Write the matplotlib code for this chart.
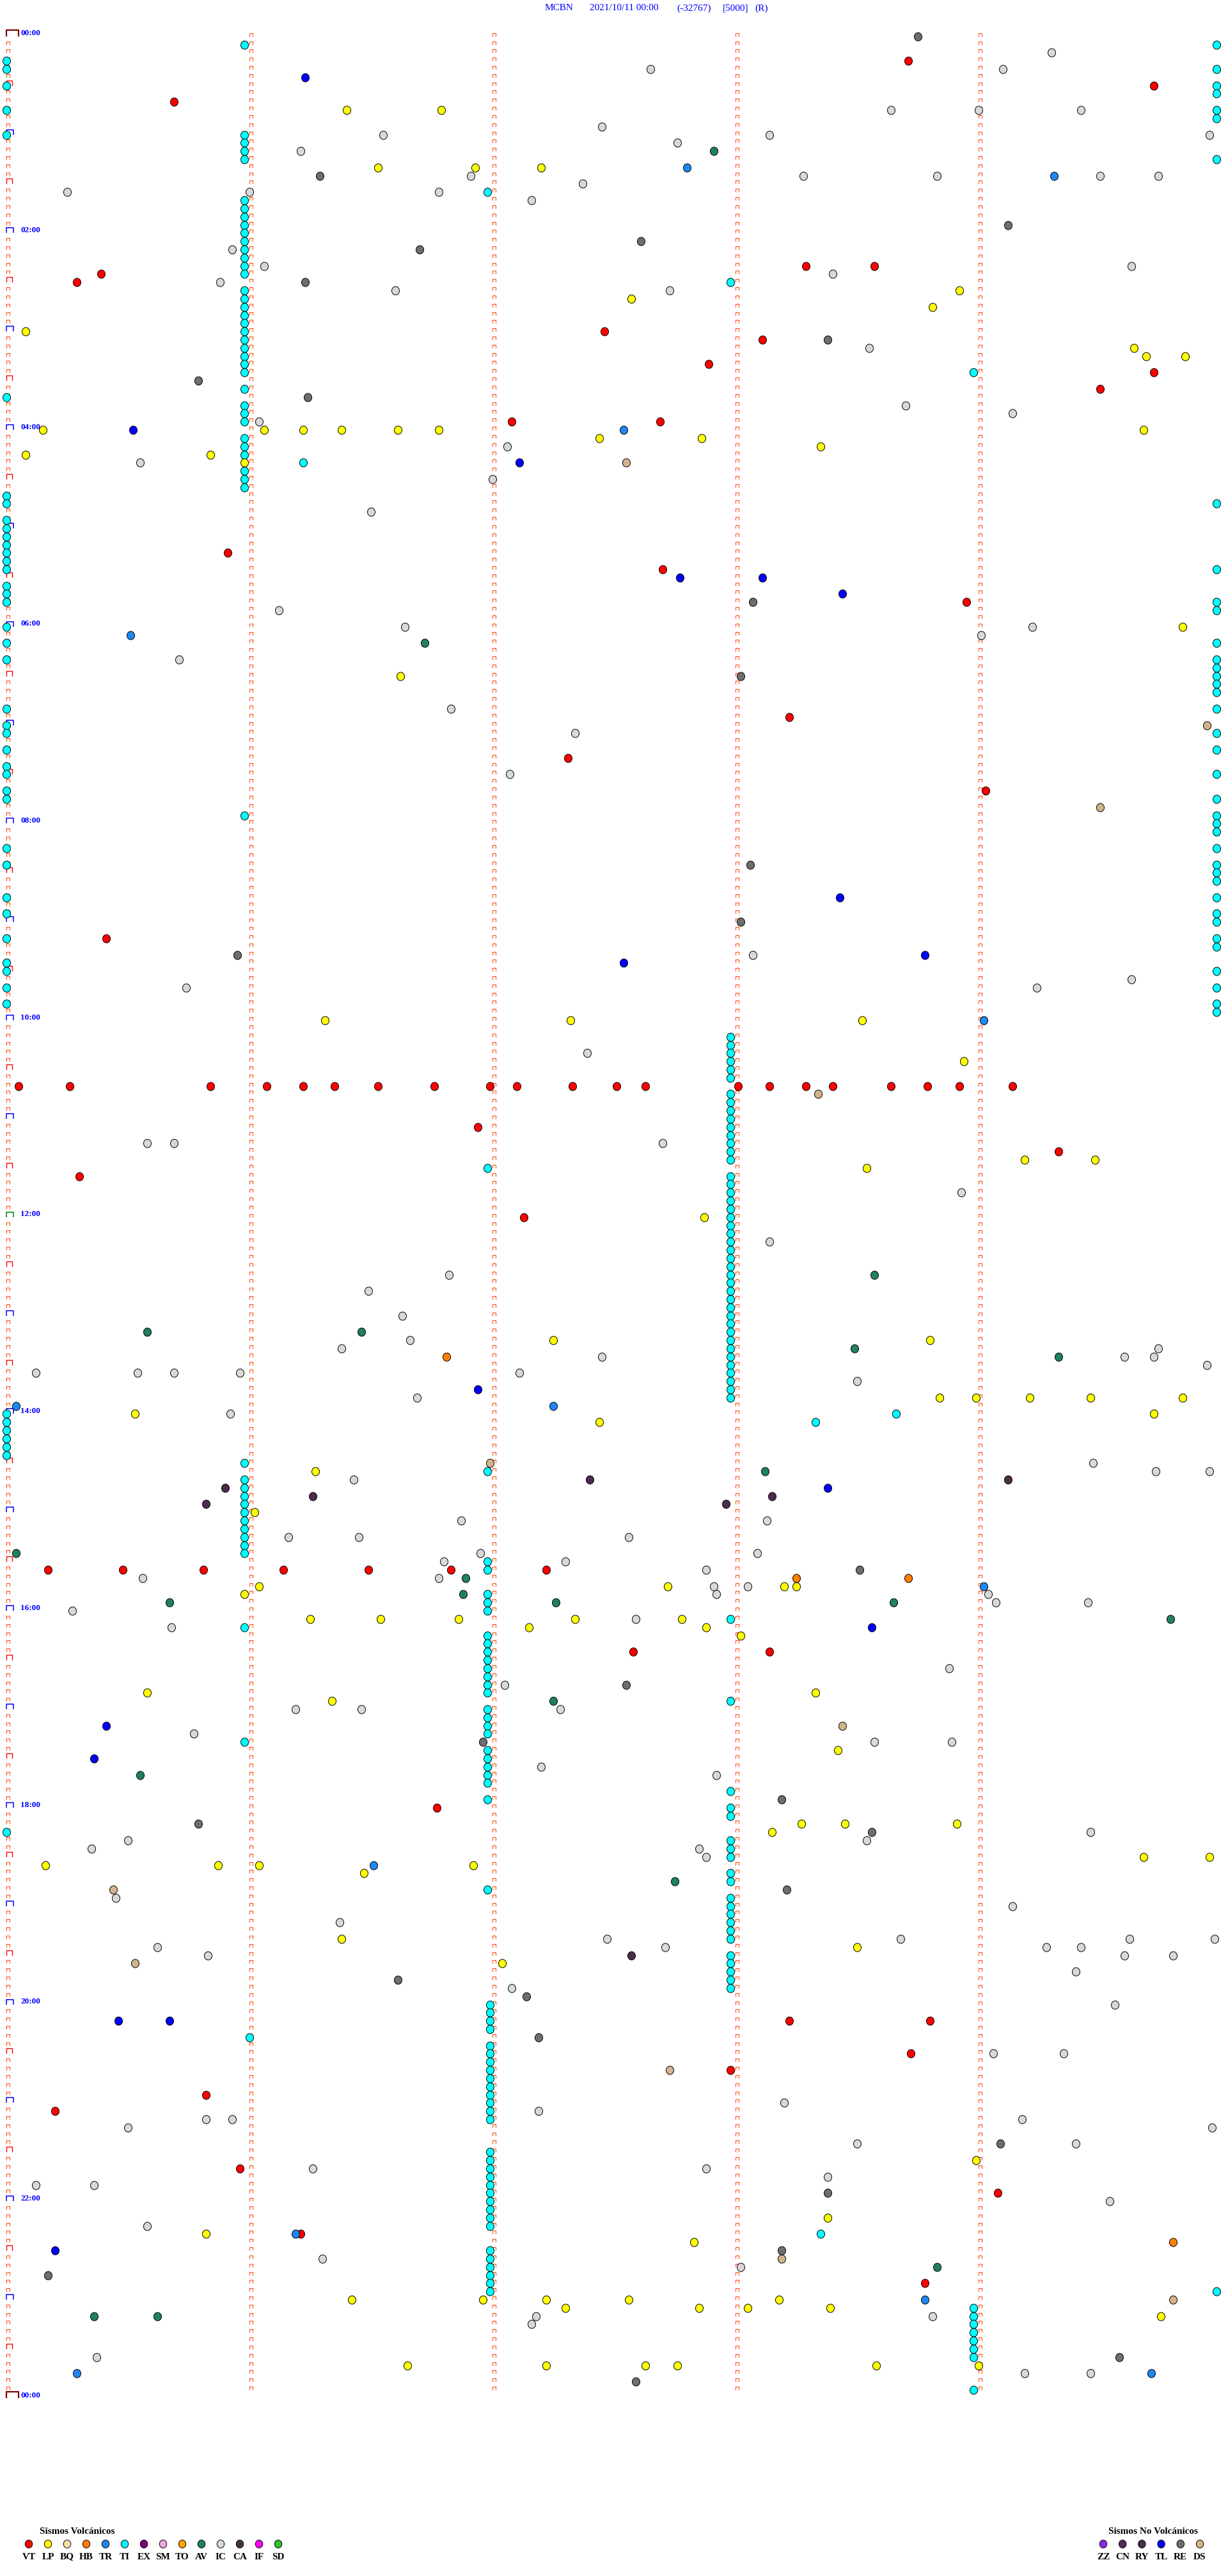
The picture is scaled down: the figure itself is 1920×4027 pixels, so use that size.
import numpy as np
import matplotlib.pyplot as plt
from matplotlib.path import Path

# helicorder MCBN 2021/10/11, one trace row = 5 minutes, 288 rows
# event times in minutes after 00:00, one list per event class

vt = [18.71, 34.72, 40.69, 143.29, 143.57, 145.39, 150.29, 182.46, 188.11, 202.89,
      209.72, 219.50, 237.08, 237.69, 315.91, 327.70, 348.95, 418.22, 442.31, 464.03,
      550.41, 640.05, 640.26, 640.84, 641.07, 641.22, 641.35, 641.53, 641.76, 641.99,
      642.10, 642.33, 642.51, 642.63, 643.01, 643.14, 643.29, 643.40, 643.64, 643.79,
      643.92, 644.14, 666.94, 684.33, 695.30, 722.13, 935.17, 935.48, 935.81, 936.14,
      936.49, 936.83, 937.22, 987.58, 988.14, 1081.77, 1213.22, 1213.80, 1233.72,
      1242.98, 1255.82, 1265.20, 1300.96, 1319.08, 1341.21, 1373.78]

lp = [46.40, 46.79, 81.53, 81.93, 82.20, 158.92, 162.57, 168.81, 180.08, 194.64,
      199.69, 199.85, 240.15, 241.06, 241.22, 241.38, 241.61, 241.78, 244.68, 247.44,
      247.86, 253.35, 255.08, 255.84, 260.98, 364.84, 391.62, 601.31, 602.32, 603.52,
      628.94, 689.19, 689.48, 693.54, 722.87, 797.25, 798.80, 833.84, 833.99, 834.21,
      834.46, 834.84, 840.53, 844.72, 847.44, 876.27, 901.02, 946.04, 947.72, 948.20,
      948.25, 950.98, 966.25, 966.54, 966.86, 967.34, 967.78, 972.15, 972.88, 978.02,
      1010.58, 1013.33, 1016.34, 1048.42, 1093.27, 1093.45, 1093.91, 1098.15, 1114.68,
      1114.95, 1115.16, 1115.87, 1116.04, 1116.92, 1121.47, 1161.38, 1168.50, 1177.04,
      1298.99, 1333.38, 1340.82, 1347.83, 1381.42, 1381.96, 1382.22, 1382.56, 1383.18,
      1387.30, 1387.85, 1388.05, 1388.39, 1394.75, 1421.65, 1422.22, 1422.63, 1422.76,
      1423.58, 1424.00]

hb = [806.81, 943.25, 943.71, 1349.80]

tr = [82.80, 89.31, 242.54, 365.51, 604.02, 835.04, 837.25, 949.02, 1116.51, 1341.19,
      1383.78, 1425.29, 1429.71]

ti = [15.0, 20.0, 30.0, 45.0, 60.0, 220.0, 280.0, 285.0, 295.0, 300.0, 305.0, 310.0,
      315.0, 320.0, 325.0, 335.0, 340.0, 345.0, 360.0, 370.0, 380.0, 410.0, 420.0, 425.0,
      435.0, 445.0, 450.0, 460.0, 465.0, 495.0, 505.0, 525.0, 535.0, 550.0, 565.0, 570.0,
      580.0, 590.0, 840.0, 845.0, 850.0, 855.0, 860.0, 865.0, 1095.0,
      9.98, 24.98, 34.98, 39.98, 49.98, 54.98, 79.98, 289.98, 329.98, 349.98, 354.98,
      374.98, 384.98, 389.98, 394.98, 399.98, 404.98, 414.98, 429.98, 439.98, 454.98,
      469.98, 479.98, 484.98, 489.98, 499.98, 509.98, 514.98, 519.98, 529.98, 539.98,
      544.98, 554.98, 559.98, 574.98, 584.98, 594.98, 599.98, 1379.98,
      5.98, 60.98, 65.98, 70.98, 75.98, 100.98, 105.98, 110.98, 115.98, 120.98, 125.98,
      130.98, 135.98, 140.98, 145.98, 155.98, 160.98, 165.98, 170.98, 175.98, 180.98,
      185.98, 190.98, 195.98, 200.98, 205.98, 215.98, 225.98, 230.98, 235.98, 245.98,
      250.98, 255.98, 265.98, 270.98, 275.98, 475.98, 870.98, 880.98, 885.98, 890.98,
      895.98, 900.98, 905.98, 910.98, 915.98, 920.98, 925.98, 970.98, 1040.98, 1221.0,
      96.98, 691.98, 876.98, 931.98, 936.98, 951.98, 956.98, 961.98, 976.98, 981.98,
      986.98, 991.98, 996.98, 1001.98, 1006.98, 1011.98, 1021.98, 1026.98, 1031.98,
      1036.98, 1046.98, 1051.98, 1056.98, 1061.98, 1066.98, 1076.98, 1131.98,
      1201.99, 1206.99, 1211.99, 1216.99, 1226.99, 1231.99, 1236.99, 1241.99, 1246.99,
      1251.99, 1256.99, 1261.99, 1266.99, 1271.99, 1291.99, 1296.99, 1301.99, 1306.99,
      1311.99, 1316.99, 1321.99, 1326.99, 1331.99, 1336.99, 1351.99, 1356.99, 1361.99,
      1366.99, 1371.99, 1376.99,
      152.98, 612.98, 617.98, 622.98, 627.98, 632.98, 637.98, 647.98, 652.98, 657.98,
      662.98, 667.98, 672.98, 677.98, 682.98, 687.98, 697.98, 702.98, 707.98, 712.98,
      717.98, 722.98, 727.98, 732.98, 737.98, 742.98, 747.98, 752.98, 757.98, 762.98,
      767.98, 772.98, 777.98, 782.98, 787.98, 792.98, 797.98, 802.98, 807.98, 812.98,
      817.98, 822.98, 827.98, 832.98, 967.98, 1017.98, 1072.98, 1082.98, 1087.98,
      1102.98, 1107.98, 1112.98, 1122.98, 1127.98, 1137.98, 1142.98, 1147.98, 1152.98,
      1157.98, 1162.98, 1172.98, 1177.98, 1182.98, 1187.98, 1192.98,
      208.98, 1388.98, 1393.98, 1398.98, 1403.98, 1408.98, 1413.98, 1418.98, 1438.98,
      261.22, 843.66, 848.33, 1343.35]

av = [72.91, 371.72, 758.57, 790.58, 791.46, 803.49, 809.33, 878.12, 925.04, 941.89,
      951.88, 955.67, 957.26, 958.65, 969.79, 1017.25, 1060.55, 1127.75, 1363.83,
      1390.36, 1390.62]

ic = [14.30, 22.65, 24.10, 48.64, 49.00, 49.42, 57.45, 61.55, 63.14, 64.95, 67.76,
      71.21, 86.91, 88.28, 88.83, 89.50, 89.74, 92.37, 95.25, 96.00, 96.78, 102.16,
      130.93, 141.06, 144.63, 148.40, 150.88, 156.60, 157.73, 193.55, 228.70, 234.14,
      236.04, 252.06, 260.55, 272.00, 291.50, 351.12, 361.64, 364.22, 369.01, 380.71,
      411.83, 427.34, 452.07, 563.07, 579.63, 580.74, 584.24, 622.39, 675.58, 675.69,
      677.70, 708.93, 738.14, 756.82, 766.49, 781.63, 796.66, 801.38, 804.74, 807.45,
      809.60, 809.72, 814.94, 815.12, 815.54, 815.69, 815.96, 817.11, 823.50, 831.69,
      840.92, 874.47, 879.73, 879.95, 881.43, 906.87, 908.13, 916.16, 916.45, 917.56,
      926.95, 928.09, 931.80, 932.30, 937.88, 940.56, 941.78, 947.91, 948.05, 952.92,
      954.04, 959.07, 959.45, 960.27, 967.59, 970.68, 998.88, 1007.05, 1021.19, 1021.46,
      1022.28, 1035.77, 1043.57, 1043.89, 1057.20, 1062.92, 1099.46, 1100.50, 1103.54,
      1105.35, 1107.85, 1112.88, 1135.45, 1144.14, 1151.37, 1162.47, 1163.68, 1164.62,
      1164.97, 1165.62, 1167.71, 1169.28, 1169.42, 1170.83, 1174.60, 1174.80, 1184.40,
      1192.08, 1204.56, 1234.06, 1234.35, 1263.20, 1267.19, 1270.82, 1270.93, 1274.18,
      1275.50, 1279.96, 1288.50, 1289.40, 1301.26, 1302.88, 1308.38, 1310.12, 1310.36,
      1324.54, 1335.58, 1356.30, 1363.02, 1392.18, 1393.81, 1397.16, 1415.37, 1429.19,
      1429.46]

ca = [882.40, 884.12, 885.90, 891.26, 893.15, 895.82, 897.96, 1172.57]

tl = [26.23, 240.52, 262.11, 332.77, 333.11, 343.44, 528.43, 563.78, 567.54, 826.94,
      888.38, 973.56, 1030.41, 1050.36, 1210.46, 1210.67, 1350.20]

re = [3.75, 86.29, 119.12, 127.61, 131.70, 151.23, 188.38, 210.79, 221.24, 348.07,
      393.02, 508.06, 543.02, 560.95, 938.51, 1007.55, 1041.96, 1078.19, 1090.79,
      1098.56, 1133.21, 1186.61, 1197.14, 1222.19, 1289.09, 1318.38, 1353.19, 1365.17,
      1419.58, 1432.59]

ds = [262.55, 424.94, 474.50, 648.34, 871.99, 1033.44, 1130.44, 1175.53, 1242.73,
      1358.19, 1384.80]

# legend classes
volc_codes = ['VT', 'LP', 'BQ', 'HB', 'TR', 'TI', 'EX', 'SM', 'TO', 'AV', 'IC', 'CA', 'IF', 'SD']
volc_colors = ['#ff0000', '#ffff00', '#f0e6a8', '#ff8000', '#1e88f0', '#00ffff', '#800080',
               '#e8a8e8', '#ffa500', '#208060', '#d8d8d8', '#4b2d4b', '#ff00ff', '#30c030']
novolc_codes = ['ZZ', 'CN', 'RY', 'TL', 'RE', 'DS']
novolc_colors = ['#8a2be2', '#503050', '#4b2d4b', '#0000ff', '#6e6e6e', '#d2b48c']

events = {'VT': vt, 'LP': lp, 'HB': hb, 'TR': tr, 'TI': ti, 'AV': av, 'IC': ic,
          'CA': ca, 'TL': tl, 'RE': re, 'DS': ds}
colors = dict(zip(volc_codes + novolc_codes, volc_colors + novolc_colors))
draw_order = ['TI', 'IC', 'RE', 'CA', 'DS', 'AV', 'HB', 'LP', 'TL', 'VT', 'TR']

# page geometry in pixels
W, H = 1920, 4027
X0, PX_MIN = 10, 380       # x pixel of minute 0, pixels per minute
Y0, PX_ROW = 56.7, 12.82   # y pixel of row 0, pixels per row
N_ROWS = 288

fig = plt.figure(figsize=(W / 100, H / 100), dpi=100)
fig.patch.set_facecolor('white')
ax = fig.add_axes([0, 0, 1, 1])
ax.set_xlim(-X0 / PX_MIN, (W - X0) / PX_MIN)
ax.set_ylim((H - Y0) / PX_ROW, -Y0 / PX_ROW)
ax.axis('off')

# row ticks (little "⊓" marks)
def cap(h):
    return Path([(0, 0), (0, h), (1, h), (1, 0)],
                [Path.MOVETO, Path.LINETO, Path.LINETO, Path.LINETO])

rows = np.arange(N_ROWS)
for k in range(1, 5):
    ax.plot(np.full(N_ROWS, k), rows, ls='none', marker=cap(0.95), ms=7.9,
            mfc='none', mec='#ff4500', mew=0.75, zorder=1)
small = rows[(rows % 6 != 0)]
ax.plot(np.zeros(len(small)), small, ls='none', marker=cap(0.95), ms=7.9,
        mfc='none', mec='#ff4500', mew=0.75, zorder=1)
half = rows[rows % 12 == 6]
ax.plot(np.zeros(len(half)), half, ls='none', marker=cap(0.85), ms=13,
        mfc='none', mec='#ff0000', mew=1.0, zorder=1)
hours = rows[(rows % 12 == 0) & (rows != 0) & (rows != 144)]
ax.plot(np.zeros(len(hours)), hours, ls='none', marker=cap(0.75), ms=16,
        mfc='none', mec='#0000ff', mew=1.1, zorder=1)
ax.plot([0], [144], ls='none', marker=cap(0.75), ms=16,
        mfc='none', mec='#008000', mew=1.1, zorder=1)
ax.plot([0, 0], [0, N_ROWS], ls='none', marker=cap(0.5), ms=28,
        mfc='none', mec='#800000', mew=1.6, zorder=1)

for r in range(0, N_ROWS + 1, 24):
    ax.text((32 - X0) / PX_MIN, r - 0.1, f'{(r // 12) % 24:02d}:00', color='#0000ff',
            fontsize=9.5, fontweight='bold', family='Liberation Serif',
            ha='left', va='baseline')

# event dots
th = np.linspace(0, 2 * np.pi, 41)
dot = Path(np.column_stack([0.92 * np.cos(th), np.sin(th)]), closed=True)
for z, code in enumerate(draw_order):
    t = np.array(events[code])
    row = np.floor(t / 5 + 1e-9)
    off = t - 5 * row
    ax.scatter(off, row, s=88, marker=dot, c=colors[code], edgecolors='black',
               linewidths=0.7, zorder=3 + z)

# title and legends in pixel coordinates
ov = fig.add_axes([0, 0, 1, 1], facecolor='none')
ov.set_xlim(0, W)
ov.set_ylim(H, 0)
ov.axis('off')

title_parts = ['MCBN', '2021/10/11 00:00', '(-32767)', '[5000]', '(R)']
title_x = [852, 922, 1058, 1130, 1180]
for txt, x in zip(title_parts, title_x):
    ov.text(x, 13, txt, color='#0000ff', fontsize=11, family='Liberation Serif',
            ha='left', va='center')

def legend(x0, step, codes, cols, title, tx):
    ov.text(tx, 3957, title, fontsize=11, fontweight='bold', family='Liberation Serif',
            ha='left', va='center')
    xs = x0 + step * np.arange(len(codes))
    ov.scatter(xs, np.full(len(codes), 3977), s=80, marker=dot, c=cols,
               edgecolors='black', linewidths=0.7)
    for x, c in zip(xs, codes):
        ov.text(x, 3997, c, fontsize=11, fontweight='bold', family='Liberation Serif',
                ha='center', va='center')

legend(45, 30, volc_codes, volc_colors, 'Sismos Volcánicos', 62)
legend(1725, 30.2, novolc_codes, novolc_colors, 'Sismos No Volcánicos', 1733)

fig.savefig('out.png', dpi=100, facecolor='white')
